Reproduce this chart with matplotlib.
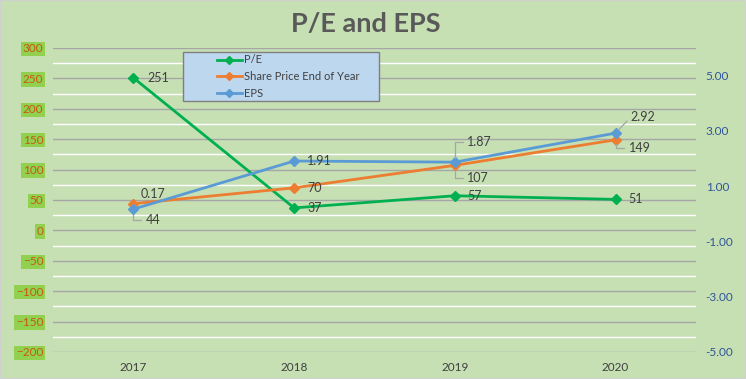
import matplotlib
matplotlib.use("Agg")
import matplotlib.pyplot as plt
from matplotlib.patches import Rectangle
from matplotlib.ticker import MultipleLocator, FixedLocator, FormatStrFormatter

plt.rcParams['font.family'] = ['Lato', 'DejaVu Sans']

years = ["2017", "2018", "2019", "2020"]
pe = [251, 37, 57, 51]
share_price = [44, 70, 107, 149]
eps = [0.17, 1.91, 1.87, 2.92]
left_ticks = [300, 250, 200, 150, 100, 50, 0, -50, -100, -150, -200]
right_ticks = [5, 3, 1, -1, -3, -5]

BG = '#c6e0b4'
GREEN = '#00b050'
ORANGE = '#ed7d31'
BLUE = '#5b9bd5'
LBL = '#404040'
LEAD = '#a6a6a6'

fig = plt.figure(figsize=(7.46, 3.79), dpi=100)
fig.patch.set_facecolor(BG)
fig.patches.append(Rectangle((0, 0), 1, 1, transform=fig.transFigure, fill=False,
                             edgecolor='#d0d0d0', linewidth=1.5))

ax = fig.add_axes([53/746, 27/379, 643/746, 304/379])
ax.set_facecolor(BG)
x = list(range(len(years)))
ax.set_xlim(-0.5, len(years) - 0.5)
ax.set_ylim(-200, 300)
ax.yaxis.set_major_locator(FixedLocator(left_ticks))
ax.yaxis.set_minor_locator(MultipleLocator(25))
ax.grid(which='major', axis='y', color='#a6a6a6', linewidth=1)
ax.grid(which='minor', axis='y', color='white', linewidth=1)
ax.set_axisbelow(True)
for s in ax.spines.values():
    s.set_visible(False)
ax.set_xticks(x)
ax.set_xticklabels(years)
ax.tick_params(axis='x', length=0, pad=7, labelsize=8.5, labelcolor='#404040')
ax.tick_params(axis='y', which='both', length=0, pad=7, labelsize=8.5, labelcolor='#c55a11')
for t in ax.get_yticklabels():
    t.set_bbox(dict(facecolor='#92d050', edgecolor='none', pad=1.2))

l1, = ax.plot(x, pe, color=GREEN, lw=2, marker='D', ms=5, label='P/E', zorder=3)
l2, = ax.plot(x, share_price, color=ORANGE, lw=2, marker='D', ms=5,
              label='Share Price End of Year', zorder=3)

ax2 = ax.twinx()
ax2.set_ylim(-5, 6)
ax2.yaxis.set_major_locator(FixedLocator(right_ticks))
ax2.yaxis.set_major_formatter(FormatStrFormatter('%.2f'))
ax2.tick_params(axis='y', length=0, pad=7, labelsize=8.5, labelcolor='#2f5597')
for s in ax2.spines.values():
    s.set_visible(False)
l3, = ax2.plot(x, eps, color=BLUE, lw=2, marker='D', ms=5, label='EPS', zorder=3)


def lab(a, xi, yi, txt, dx, dy, leader=None):
    props = None
    if leader == 'angle':
        props = dict(arrowstyle='-', color=LEAD, lw=0.9, shrinkA=1, shrinkB=3,
                     relpos=(0, 0.5), connectionstyle='angle,angleA=0,angleB=90,rad=0')
    elif leader == 'straight':
        props = dict(arrowstyle='-', color=LEAD, lw=0.9, shrinkA=1, shrinkB=3,
                     relpos=(0, 0.5))
    a.annotate(txt, (xi, yi), xytext=(dx, dy), textcoords='offset pixels',
               ha='left', va='center', fontsize=9, color=LBL, arrowprops=props)

# P/E labels
lab(ax, 0, pe[0], str(pe[0]), 14, 0)
lab(ax, 1, pe[1], str(pe[1]), 13, 0)
lab(ax, 2, pe[2], str(pe[2]), 12, 0)
lab(ax, 3, pe[3], str(pe[3]), 13, 0)
# Share price labels
lab(ax, 0, share_price[0], str(share_price[0]), 12, -16, 'angle')
lab(ax, 1, share_price[1], str(share_price[1]), 13, 0)
lab(ax, 2, share_price[2], str(share_price[2]), 12, -13, 'angle')
lab(ax, 3, share_price[3], str(share_price[3]), 13, -8, 'angle')
# EPS labels
lab(ax2, 0, eps[0], f"{eps[0]:.2f}", 7, 15)
lab(ax2, 1, eps[1], f"{eps[1]:.2f}", 13, 0)
lab(ax2, 2, eps[2], f"{eps[2]:.2f}", 12, 20, 'angle')
lab(ax2, 3, eps[3], f"{eps[3]:.2f}", 15, 16, 'straight')

# Legend box
fig.patches.append(Rectangle((183/746, (379-101)/379), 196/746, 49/379,
                             transform=fig.transFigure, facecolor='#bdd7ee',
                             edgecolor='#7f7f7f', linewidth=1, zorder=5))
leg = fig.legend(handles=[l1, l2, l3], loc='center left',
                 bbox_to_anchor=(211/746, (379-76.5)/379), frameon=False,
                 fontsize=8, labelspacing=0.5, handlelength=2.3,
                 handletextpad=0.2, borderpad=0, labelcolor='#404040')
for h in leg.legend_handles:
    h.set_markersize(4)
leg.set_zorder(6)

fig.text(366/746, 1 - 24/379, 'P/E and EPS', ha='center', va='center',
         fontsize=19.5, fontweight='bold', color='#595959')

fig.savefig('out.png', dpi=100, facecolor=BG)
